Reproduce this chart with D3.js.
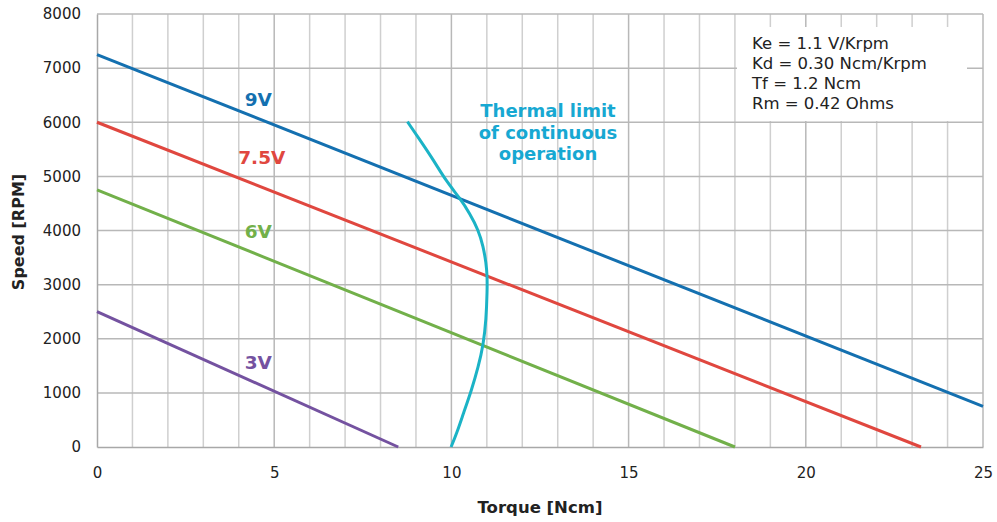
<!DOCTYPE html>
<html><head><meta charset="utf-8">
<script src="https://cdn.jsdelivr.net/npm/d3@7"></script>
<style>body{margin:0;background:#fff}svg{display:block}</style>
</head><body>
<svg id="c" width="997" height="522"></svg>
<script>
const xTicks = [0, 5, 10, 15, 20, 25];
const yTicks = [0, 1000, 2000, 3000, 4000, 5000, 6000, 7000, 8000];
const seriesNames = ["9V", "7.5V", "6V", "3V"];
const seriesColors = ["#1470b0", "#e0473f", "#72b04a", "#7452a0"];
// [torque, speed] endpoints of each voltage line
const line9V = [[0, 7250], [25, 750]];
const line75V = [[0, 6000], [23.25, 0]];
const line6V = [[0, 4750], [18, 0]];
const line3V = [[0, 2500], [8.5, 0]];
const thermal = [[8.76, 6010], [9.11, 5675], [9.49, 5305], [9.86, 4904], [10.24, 4597], [10.52, 4314], [10.76, 4011], [10.9, 3703], [10.98, 3395], [11.01, 3150], [11.01, 2902], [10.98, 2347], [10.9, 1885], [10.76, 1484], [10.57, 1054], [10.34, 623], [10.15, 253], [9.99, 0]];
const labelPos = [[4.55, 6300], [4.65, 5230], [4.55, 3860], [4.55, 1440]];
const params = ["Ke = 1.1 V/Krpm", "Kd = 0.30 Ncm/Krpm", "Tf = 1.2 Ncm", "Rm = 0.42 Ohms"];
const thermalText = ["Thermal limit", "of continuous", "operation"];

const svg = d3.select("#c");
const x = d3.scaleLinear().domain([0, 25]).range([97, 983]);
const y = d3.scaleLinear().domain([0, 8000]).range([447, 14]);
const font = "'DejaVu Sans', Verdana, sans-serif";

// grid
const g = svg.append("g");
g.selectAll(".vg").data(d3.range(1, 26)).join("line")
  .attr("x1", d => x(d)).attr("x2", d => x(d)).attr("y1", y(0)).attr("y2", y(8000))
  .attr("stroke", d => d % 5 === 0 ? "#b8b8b8" : "#cfcfcf").attr("stroke-width", 1.5);
g.selectAll(".hg").data(yTicks.slice(1)).join("line")
  .attr("x1", x(0)).attr("x2", x(25)).attr("y1", d => y(d)).attr("y2", d => y(d))
  .attr("stroke", "#b8b8b8").attr("stroke-width", 1.5);

// axes
const xa = svg.append("g").attr("transform", `translate(0,${y(0)})`)
  .call(d3.axisBottom(x).tickValues(xTicks).tickSize(0).tickPadding(20));
const ya = svg.append("g").attr("transform", `translate(${x(0)},0)`)
  .call(d3.axisLeft(y).tickValues(yTicks).tickSize(0).tickPadding(16).tickFormat(d3.format("d")));
[xa, ya].forEach(a => {
  a.select(".domain").attr("stroke", "#a8a8a8").attr("stroke-width", 1.5);
  a.selectAll("text").attr("font-family", font).attr("font-size", 15).attr("fill", "#222");
});

// params box
svg.append("rect").attr("x", 737).attr("y", 27).attr("width", 230).attr("height", 94).attr("fill", "#fff");
svg.append("g").selectAll("text").data(params).join("text")
  .attr("x", 752).attr("y", (d, i) => 49 + i * 20).text(d => d)
  .attr("font-family", font).attr("font-size", 16.5).attr("fill", "#222");

// lines
const lg = d3.line().x(d => x(d[0])).y(d => y(d[1]));
const lines = [line9V, line75V, line6V, line3V];
svg.append("g").selectAll("path").data(lines).join("path")
  .attr("d", lg).attr("fill", "none").attr("stroke", (d, i) => seriesColors[i]).attr("stroke-width", 3);

svg.append("path").datum(thermal)
  .attr("d", d3.line().x(d => x(d[0])).y(d => y(d[1])).curve(d3.curveBasis))
  .attr("fill", "none").attr("stroke", "#1bb3c6").attr("stroke-width", 3);

// labels
svg.append("g").selectAll("text").data(seriesNames).join("text")
  .attr("x", (d, i) => x(labelPos[i][0])).attr("y", (d, i) => y(labelPos[i][1]))
  .attr("text-anchor", "middle").text(d => d)
  .attr("font-family", font).attr("font-weight", "bold").attr("font-size", 18.5)
  .attr("fill", (d, i) => seriesColors[i]);

svg.append("g").selectAll("text").data(thermalText).join("text")
  .attr("x", 548).attr("y", (d, i) => 117 + i * 21.5).attr("text-anchor", "middle").text(d => d)
  .attr("font-family", font).attr("font-weight", "bold").attr("font-size", 18).attr("fill", "#17a8d2");

// axis titles
svg.append("text").attr("x", 540).attr("y", 513).attr("text-anchor", "middle")
  .text("Torque [Ncm]").attr("font-family", font).attr("font-weight", "bold").attr("font-size", 16.5).attr("fill", "#222");
svg.append("text").attr("transform", "translate(24,232) rotate(-90)").attr("text-anchor", "middle")
  .text("Speed [RPM]").attr("font-family", font).attr("font-weight", "bold").attr("font-size", 16).attr("fill", "#222");
</script>
</body></html>
